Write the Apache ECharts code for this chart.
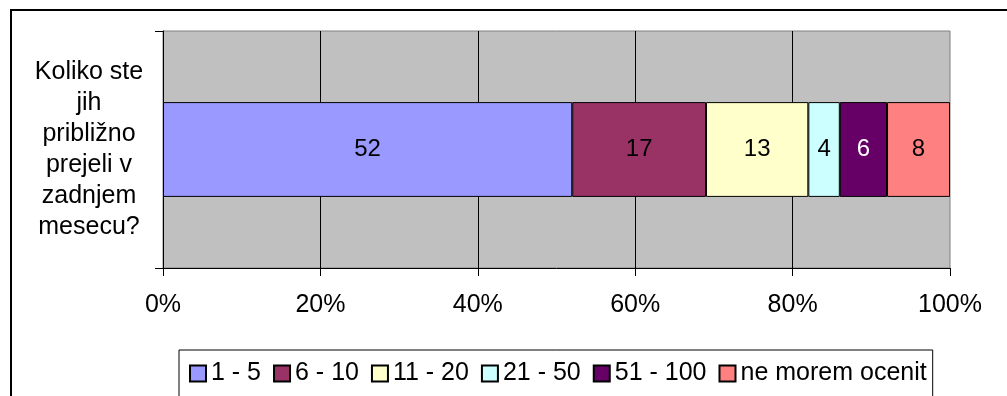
<!DOCTYPE html>
<html>
<head>
<meta charset="utf-8">
<script src="https://cdn.jsdelivr.net/npm/echarts@6/dist/echarts.min.js"></script>
<style>
html,body{margin:0;padding:0;background:#fff;}
#chart{width:1007px;height:396px;}
</style>
</head>
<body>
<div id="chart"></div>
<script>
const categories = ['Koliko ste\njih\npribli\u017eno\nprejeli v\nzadnjem\nmesecu?'];
const seriesNames = ['1 - 5', '6 - 10', '11 - 20', '21 - 50', '51 - 100', 'ne morem ocenit'];
const seriesValues = [[52], [17], [13], [4], [6], [8]];
const seriesColors = ['#9999FF', '#993366', '#FFFFCC', '#CCFFFF', '#660066', '#FF8080'];
const labelColors = ['#000', '#000', '#000', '#000', '#fff', '#000'];
const xTicks = [0, 20, 40, 60, 80, 100];

const FONT = "'Liberation Sans', Arial, sans-serif";
const FS = 25;

const chart = echarts.init(document.getElementById('chart'), null, {renderer: 'canvas'});

const series = seriesNames.map((name, i) => ({
  name: name,
  type: 'bar',
  stack: 'total',
  barWidth: '40%',
  data: seriesValues[i],
  itemStyle: {color: seriesColors[i], borderColor: '#000', borderWidth: 1},
  label: {
    show: true,
    position: 'inside',
    formatter: '{c}',
    color: labelColors[i],
    fontFamily: FONT,
    fontSize: 24
  },
  emphasis: {disabled: true}
}));

chart.setOption({
  animation: false,
  backgroundColor: '#fff',
  textStyle: {fontFamily: FONT},
  graphic: [{
    type: 'rect',
    shape: {x: 11, y: 10, width: 1200, height: 600},
    style: {fill: 'none', stroke: '#000', lineWidth: 2},
    silent: true,
    z: 100
  }],
  grid: {
    left: 163, top: 31, right: 57, bottom: 128,
    show: true,
    backgroundColor: '#C0C0C0',
    borderColor: '#808080',
    borderWidth: 1
  },
  xAxis: {
    type: 'value',
    min: xTicks[0],
    max: xTicks[xTicks.length - 1],
    interval: 20,
    axisLine: {show: true, lineStyle: {color: '#000', width: 1}},
    axisTick: {show: true, length: 8, lineStyle: {color: '#000'}},
    splitLine: {show: true, showMaxLine: false, showMinLine: false, lineStyle: {color: '#000', width: 1}},
    axisLabel: {
      formatter: '{value}%',
      color: '#000',
      fontFamily: FONT,
      fontSize: FS,
      margin: 25
    }
  },
  yAxis: {
    type: 'category',
    data: categories,
    axisLine: {show: true, lineStyle: {color: '#000', width: 1}},
    axisTick: {show: true, length: 8, alignWithLabel: false, lineStyle: {color: '#000'}},
    splitLine: {show: false},
    axisLabel: {
      color: '#000',
      fontFamily: FONT,
      fontSize: FS,
      lineHeight: 31,
      align: 'center',
      margin: 74
    }
  },
  legend: {
    left: 179,
    top: 350,
    orient: 'horizontal',
    padding: [11, 6, 20, 10],
    borderColor: '#000',
    borderWidth: 1,
    itemWidth: 16,
    itemHeight: 16,
    itemGap: 12,
    icon: 'rect',
    selectedMode: false,
    data: seriesNames,
    textStyle: {color: '#000', fontFamily: FONT, fontSize: FS}
  },
  series: series
});
</script>
</body>
</html>
